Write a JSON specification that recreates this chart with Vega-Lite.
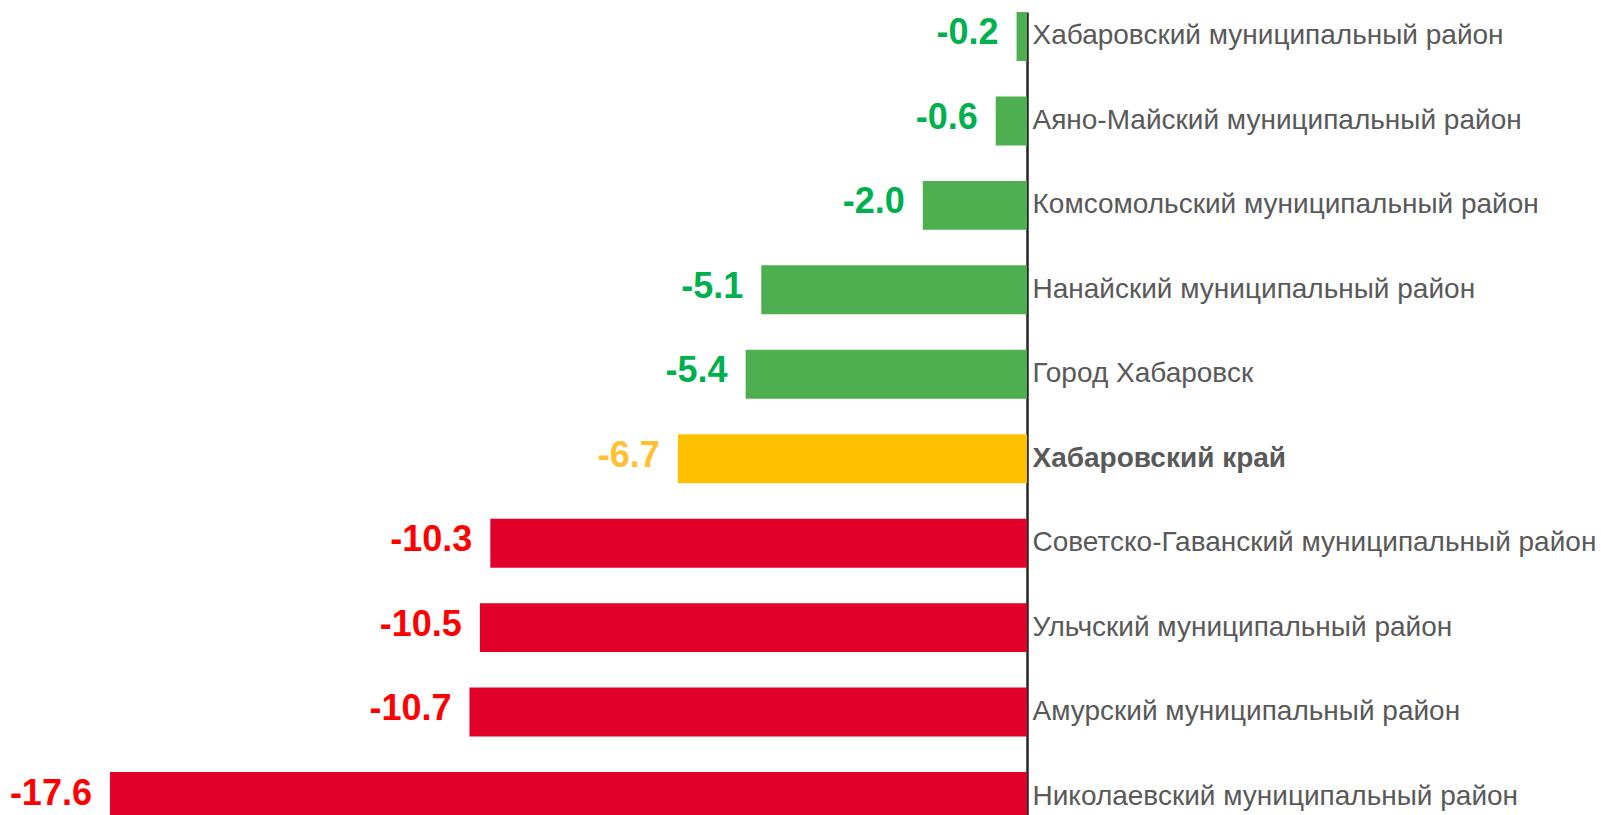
{
  "$schema": "https://vega.github.io/schema/vega-lite/v6.json",
  "autosize": {"type": "none"},
  "width": 1027,
  "height": 815,
  "padding": {"left": 0, "top": 0, "right": 574, "bottom": 0},
  "background": "white",
  "config": {"view": {"stroke": null}},
  "data": {"values": [
    {"name": "Хабаровский муниципальный район", "value": -0.2, "label": "-0.2", "status": "good"},
    {"name": "Аяно-Майский муниципальный район", "value": -0.6, "label": "-0.6", "status": "good"},
    {"name": "Комсомольский муниципальный район", "value": -2.0, "label": "-2.0", "status": "good"},
    {"name": "Нанайский муниципальный район", "value": -5.1, "label": "-5.1", "status": "good"},
    {"name": "Город Хабаровск", "value": -5.4, "label": "-5.4", "status": "good"},
    {"name": "Хабаровский край", "value": -6.7, "label": "-6.7", "status": "region"},
    {"name": "Советско-Гаванский муниципальный район", "value": -10.3, "label": "-10.3", "status": "bad"},
    {"name": "Ульчский муниципальный район", "value": -10.5, "label": "-10.5", "status": "bad"},
    {"name": "Амурский муниципальный район", "value": -10.7, "label": "-10.7", "status": "bad"},
    {"name": "Николаевский муниципальный район", "value": -17.6, "label": "-17.6", "status": "bad"}
  ]},
  "encoding": {
    "y": {
      "field": "name", "type": "nominal", "sort": null,
      "scale": {"range": [12, 821], "paddingInner": 0.42, "paddingOuter": 0},
      "axis": {
        "orient": "right", "title": null, "ticks": false,
        "domainColor": "#262626", "domainWidth": 2.5,
        "labelFont": "Liberation Sans", "labelFontSize": 28,
        "labelColor": "#595959", "labelPadding": 5, "labelLimit": 0,
        "labelFontWeight": {"condition": {"test": "datum.value == 'Хабаровский край'", "value": "bold"}, "value": "normal"}
      }
    }
  },
  "layer": [
    {
      "mark": {"type": "bar"},
      "encoding": {
        "x": {"field": "value", "type": "quantitative", "scale": {"domain": [-19.71, 0], "nice": false}, "axis": null},
        "color": {"field": "status", "type": "nominal", "scale": {"domain": ["good", "region", "bad"], "range": ["#4EAF50", "#FFC000", "#E0002A"]}, "legend": null}
      }
    },
    {
      "mark": {"type": "text", "align": "right", "baseline": "middle", "dx": -18, "dy": -3, "font": "Liberation Sans", "fontWeight": "bold", "fontSize": 36},
      "encoding": {
        "x": {"field": "value", "type": "quantitative"},
        "text": {"field": "label", "type": "nominal"},
        "color": {"field": "status", "type": "nominal", "scale": {"domain": ["good", "region", "bad"], "range": ["#00B050", "#FFC133", "#FF0000"]}, "legend": null}
      }
    }
  ],
  "resolve": {"scale": {"color": "independent"}}
}
